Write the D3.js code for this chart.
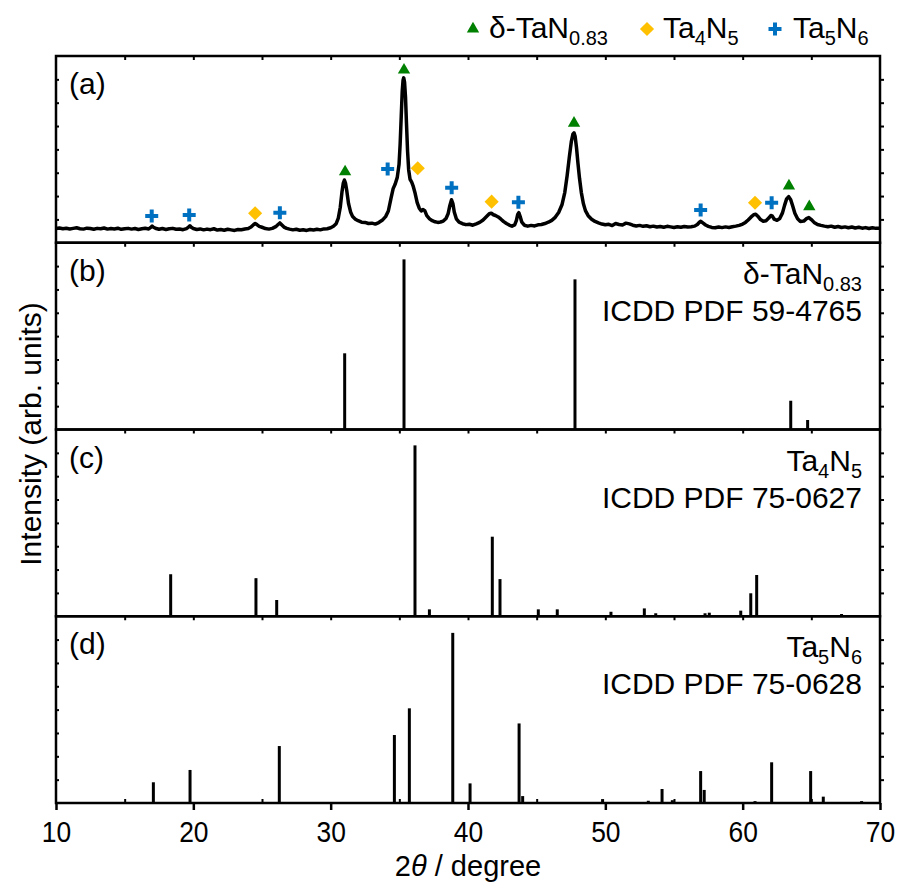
<!DOCTYPE html>
<html>
<head>
<meta charset="utf-8">
<script src="https://cdn.jsdelivr.net/npm/d3@7"></script>
<style>
  html, body { margin: 0; padding: 0; background: #fff; }
  svg { display: block; }
  text { font-family: "Liberation Sans", Arial, sans-serif; fill: #000; }
</style>
</head>
<body>
<svg id="chart" width="901" height="886"></svg>
<script>
// ---------- DATA ----------
// (a) measured XRD pattern: [2θ (degree), intensity (arb. units, 0-100 panel scale)]
const patternPoints = [[10.0,7.6],[10.25,7.9],[10.5,7.5],[10.75,7.8],[11.0,7.4],[11.25,7.7],[11.5,8.0],[11.75,7.5],[12.0,7.3],[12.25,7.8],[12.5,7.6],[12.75,7.2],[13.0,7.7],[13.25,7.5],[13.5,7.9],[13.75,7.3],[14.0,7.6],[14.25,7.4],[14.5,7.8],[14.75,7.2],[15.0,7.5],[15.25,7.7],[15.5,7.3],[15.75,7.6],[16.0,7.1],[16.25,7.5],[16.5,7.8],[16.75,7.4],
[16.9,8.2],[17.0,8.9],[17.1,8.3],[17.3,7.6],[17.5,7.2],[17.75,7.6],[18.0,7.1],[18.25,7.5],[18.5,7.7],[18.75,7.2],[19.0,7.4],[19.25,7.0],[19.5,7.6],[19.65,8.4],[19.75,9.1],[19.85,8.3],[20.0,7.6],[20.25,7.1],[20.5,7.4],[20.75,6.9],[21.0,7.3],[21.25,7.0],[21.5,7.5],[21.75,6.8],[22.0,7.1],[22.25,6.7],[22.5,7.2],[22.75,6.9],[23.0,6.6],[23.25,7.1],[23.5,7.0],[23.75,7.4],[24.0,7.6],[24.2,8.4],[24.4,9.8],[24.5,10.3],[24.65,9.6],[24.8,8.8],[25.0,8.3],[25.25,7.6],[25.5,7.3],[25.75,7.7],[26.0,8.6],[26.15,9.6],[26.3,10.6],[26.45,9.5],[26.6,8.4],[26.8,7.7],[27.0,7.3],[27.25,6.9],[27.5,7.2],[27.75,6.7],[28.0,7.0],[28.25,6.6],[28.5,7.1],[28.75,6.8],[29.0,7.2],[29.25,6.9],[29.5,7.4],[29.75,7.5],[30.0,8.0],[30.2,8.8],[30.4,10.2],[30.55,13.0],[30.7,19.0],[30.82,27.0],[30.92,32.0],[31.0,33.6],[31.08,32.0],[31.18,27.5],[31.3,21.0],[31.45,16.5],[31.6,14.0],[31.8,12.6],[32.0,11.8],[32.25,11.0],[32.5,10.9],[32.75,10.3],[33.0,10.5],[33.25,10.0],[33.5,10.8],[33.75,12.0],[34.0,14.0],[34.2,17.0],[34.4,24.0],[34.55,29.0],[34.7,31.5],[34.85,35.0],[34.98,42.0],[35.06,53.0],[35.14,68.0],[35.21,81.0],[35.27,87.0],[35.32,88.3],[35.38,86.0],[35.45,78.0],[35.52,64.0],[35.6,49.0],[35.68,39.0],[35.78,34.0],[35.9,32.5],[36.0,30.5],[36.15,26.5],[36.3,21.5],[36.45,18.5],[36.6,17.0],[36.72,17.8],[36.85,17.2],[37.0,14.5],[37.2,12.8],[37.4,11.8],[37.6,11.2],[37.8,10.9],[38.0,11.1],[38.2,11.6],[38.4,13.0],[38.55,15.5],[38.68,20.0],[38.8,23.0],[38.9,21.0],[39.0,16.5],[39.15,12.8],[39.35,11.0],[39.6,10.2],[39.85,9.7],[40.1,9.9],[40.35,9.4],[40.6,10.1],[40.85,10.9],[41.1,12.2],[41.35,14.0],[41.55,15.5],[41.7,15.8],[41.85,15.0],[42.0,14.6],[42.2,13.8],[42.4,12.6],[42.6,11.3],[42.8,10.3],[43.0,9.5],[43.2,8.9],[43.4,9.6],[43.52,11.8],[43.62,15.2],[43.7,16.1],[43.8,14.0],[43.92,11.0],[44.1,9.4],[44.35,8.9],[44.6,9.3],[44.85,9.0],[45.1,9.6],[45.35,9.8],[45.6,10.3],[45.85,11.0],[46.1,12.0],[46.35,13.6],[46.6,16.2],[46.85,20.5],[47.05,27.0],[47.22,36.0],[47.38,46.0],[47.52,54.0],[47.64,58.2],[47.72,58.9],[47.8,57.0],[47.9,51.0],[48.0,43.0],[48.12,34.5],[48.25,27.0],[48.4,21.0],[48.55,17.2],[48.75,14.5],[49.0,12.6],[49.25,11.4],[49.5,10.6],[49.75,10.0],[50.0,9.6],[50.25,9.9],[50.5,9.2],[50.75,10.3],[51.0,9.8],[51.25,9.5],[51.5,10.5],[51.75,10.1],[52.0,9.4],[52.25,9.0],[52.5,9.3],[52.75,8.8],[53.0,9.1],[53.25,8.6],[53.5,8.9],[53.75,8.4],[54.0,8.7],[54.25,8.3],[54.5,8.8],[54.75,8.5],[55.0,8.2],[55.25,8.6],[55.5,8.3],[55.75,8.7],[56.0,8.4],[56.25,8.6],[56.5,8.9],[56.7,9.8],[56.85,11.0],[56.95,11.5],[57.1,10.6],[57.3,9.5],[57.5,8.8],[57.75,8.2],[58.0,8.0],[58.25,8.4],[58.5,8.1],[58.75,8.5],[59.0,8.2],[59.25,8.6],[59.5,8.9],[59.75,9.3],[60.0,10.0],[60.2,10.9],[60.4,12.2],[60.6,13.7],[60.8,15.0],[60.95,15.3],[61.1,14.2],[61.3,12.4],[61.5,11.5],[61.7,11.8],[61.9,13.2],[62.05,14.6],[62.15,14.4],[62.3,12.6],[62.5,12.0],[62.7,13.0],[62.9,16.0],[63.05,20.0],[63.2,23.5],[63.35,24.7],[63.5,23.0],[63.65,19.5],[63.8,15.8],[64.0,12.8],[64.2,11.4],[64.45,11.6],[64.65,12.9],[64.82,13.5],[65.0,12.4],[65.2,10.9],[65.45,9.8],[65.7,9.3],[65.95,8.9],[66.2,8.6],[66.45,8.9],[66.7,8.3],[66.95,8.7],[67.2,8.2],[67.45,8.5],[67.7,8.0],[67.95,8.4],[68.2,7.9],[68.45,8.3],[68.7,7.8],[68.95,8.1],[69.2,7.6],[69.45,8.0],[69.7,7.7],[70.0,7.8]];

// (a) phase markers
const tanMarkTheta = [31.05, 35.34, 47.72, 63.37, 64.85];
const tanMarkY     = [38.0, 92.5, 64.0, 30.4, 19.3];
const ta4n5MarkTheta = [24.5, 36.34, 41.72, 60.9];
const ta4n5MarkY     = [15.8, 39.9, 22.0, 21.4];
const ta5n6MarkTheta = [16.97, 19.7, 26.3, 34.15, 38.81, 43.67, 56.94, 62.11];
const ta5n6MarkY     = [14.3, 14.9, 16.1, 39.5, 29.5, 21.7, 17.5, 21.4];

// (b) δ-TaN0.83 reference pattern
const tanStickTheta = [31.02, 35.34, 47.79, 63.5, 64.73];
const tanStickI     = [40.8, 91.1, 80.4, 15.4, 5.1];
// (c) Ta4N5 reference pattern
const ta4n5StickTheta = [18.35, 24.56, 26.07, 36.14, 37.19, 41.77, 42.33, 45.12, 46.5, 50.41, 52.84, 53.67, 57.26, 57.57, 59.86, 60.59, 61.02, 67.2];
const ta4n5StickI     = [22.5, 20.4, 8.7, 91.5, 3.7, 42.6, 19.9, 3.7, 3.7, 2.4, 4.2, 1.6, 1.6, 1.9, 3.0, 12.3, 22.1, 1.2];
// (d) Ta5N6 reference pattern
const ta5n6StickTheta = [17.09, 19.76, 26.26, 34.64, 35.73, 38.89, 40.15, 43.72, 43.98, 49.8, 53.13, 54.13, 54.88, 56.94, 57.2, 60.9, 62.11, 64.95, 65.87, 68.66];
const ta5n6StickI     = [11.1, 17.7, 30.5, 36.4, 50.7, 91.1, 10.5, 42.6, 3.7, 2.1, 1.2, 7.5, 1.5, 17.1, 7.0, 1.0, 21.8, 17.1, 3.4, 1.0];

const xTicks = [10, 20, 30, 40, 50, 60, 70];
const panelLabels = ["(a)", "(b)", "(c)", "(d)"];
const refNames = [null, ["δ-TaN", "0.83"], ["Ta", "4", "N", "5"], ["Ta", "5", "N", "6"]];
const refCards = [null, "ICDD PDF 59-4765", "ICDD PDF 75-0627", "ICDD PDF 75-0628"];
const xTitle = ["2", "θ", " / degree"];
const yTitle = "Intensity (arb. units)";

// ---------- LAYOUT ----------
const svg = d3.select("#chart");
const left = 56, right = 880, top0 = 56, bottom = 803;
const panelH = (bottom - top0) / 4;
const GREEN = "#008000", GOLD = "#ffc000", BLUE = "#0070c0";

const x = d3.scaleLinear().domain([10, 70]).range([left, right]);
const yScales = d3.range(4).map(i =>
  d3.scaleLinear().domain([0, 100]).range([top0 + (i + 1) * panelH, top0 + i * panelH]));

const triPath = d3.symbol().type(d3.symbolTriangle).size(66)();
const diaPath = d3.symbol().type(d3.symbolSquare).size(100)();
function plusPath(s, w) {
  return `M${-w},${-s}H${w}V${-w}H${s}V${w}H${w}V${s}H${-w}V${w}H${-s}V${-w}H${-w}Z`;
}
const crossPath = plusPath(6.5, 2);

// ---------- PANELS ----------
for (let i = 0; i < 4; i++) {
  const y = yScales[i];
  const g = svg.append("g");
  const pt = top0 + i * panelH;

  g.append("g").attr("transform", `translate(0,${pt})`)
    .call(d3.axisTop(x).tickValues(d3.range(15, 70, 5)).tickSize(-4).tickFormat(""))
    .call(a => a.select(".domain").remove())
    .selectAll("line").attr("stroke-width", 2);
  g.append("g").attr("transform", `translate(${left},0)`)
    .call(d3.axisLeft(y).tickValues(d3.range(12.5, 100, 12.5)).tickSize(-3).tickFormat(""))
    .call(a => a.select(".domain").remove())
    .selectAll("line").attr("stroke-width", 2);
  g.append("g").attr("transform", `translate(${right},0)`)
    .call(d3.axisRight(y).tickValues(d3.range(12.5, 100, 12.5)).tickSize(4).tickFormat(""))
    .call(a => a.select(".domain").remove())
    .selectAll("line").attr("stroke-width", 2);

  g.append("text").attr("x", 69).attr("y", pt + 38)
    .attr("font-size", 30).text(panelLabels[i]);

  if (i > 0) {
    const nm = refNames[i];
    const t = g.append("text").attr("x", 862).attr("y", pt + 41)
      .attr("text-anchor", "end").attr("font-size", 30);
    t.append("tspan").text(nm[0]);
    t.append("tspan").attr("font-size", 20).attr("dy", 7).text(nm[1]);
    if (nm.length > 2) {
      t.append("tspan").attr("dy", -7).text(nm[2]);
      t.append("tspan").attr("font-size", 20).attr("dy", 7).text(nm[3]);
    }
    g.append("text").attr("x", 862).attr("y", pt + 78)
      .attr("text-anchor", "end").attr("font-size", 30).text(refCards[i]);
  }
}

// ---------- (a) pattern ----------
svg.append("path").datum(patternPoints)
  .attr("fill", "none").attr("stroke", "#000").attr("stroke-width", 3.5)
  .attr("stroke-linejoin", "round")
  .attr("d", d3.line().x(d => x(d[0])).y(d => yScales[0](d[1])));

function drawMarkers(thetas, ys, path, color, rot) {
  svg.append("g").selectAll("path").data(thetas.map((t, k) => [t, ys[k]])).join("path")
    .attr("d", path).attr("fill", color)
    .attr("transform", d => `translate(${x(d[0])},${yScales[0](d[1])}) rotate(${rot})`);
}
drawMarkers(tanMarkTheta, tanMarkY, triPath, GREEN, 0);
drawMarkers(ta4n5MarkTheta, ta4n5MarkY, diaPath, GOLD, 45);
drawMarkers(ta5n6MarkTheta, ta5n6MarkY, crossPath, BLUE, 0);

// ---------- sticks ----------
function drawSticks(thetas, vals, y) {
  svg.append("g").selectAll("line").data(thetas.map((t, k) => [t, vals[k]])).join("line")
    .attr("x1", d => x(d[0])).attr("x2", d => x(d[0]))
    .attr("y1", y(0)).attr("y2", d => y(d[1]))
    .attr("stroke", "#000").attr("stroke-width", 3);
}
drawSticks(tanStickTheta, tanStickI, yScales[1]);
drawSticks(ta4n5StickTheta, ta4n5StickI, yScales[2]);
drawSticks(ta5n6StickTheta, ta5n6StickI, yScales[3]);

// ---------- frames ----------
for (let i = 0; i < 4; i++) {
  svg.append("rect").attr("x", left).attr("y", top0 + i * panelH)
    .attr("width", right - left).attr("height", panelH)
    .attr("fill", "none").attr("stroke", "#000").attr("stroke-width", 2.5);
}

// ---------- bottom axis ----------
const xAxisG = svg.append("g").attr("transform", `translate(0,${bottom})`)
  .call(d3.axisBottom(x).tickValues(xTicks).tickSize(7).tickPadding(6).tickFormat(d3.format("d")));
xAxisG.select(".domain").remove();
xAxisG.selectAll("line").attr("stroke-width", 2.5);
xAxisG.selectAll("text").attr("font-size", 30).attr("dy", null).attr("y", 39)
  .attr("transform", "scale(0.88,1)")
  .attr("font-family", '"Liberation Sans", Arial, sans-serif').attr("fill", "#000");
svg.append("g").attr("transform", `translate(0,${bottom})`)
  .call(d3.axisBottom(x).tickValues(d3.range(15, 70, 10)).tickSize(-4).tickFormat(""))
  .call(a => a.select(".domain").remove())
  .selectAll("line").attr("stroke-width", 2);

// axis titles
const xt = svg.append("text")
  .attr("transform", `translate(${(left + right) / 2},876)`)
  .attr("text-anchor", "middle").attr("font-size", 29);
xt.append("tspan").text(xTitle[0]);
xt.append("tspan").attr("font-style", "italic").text(xTitle[1]);
xt.append("tspan").text(xTitle[2]);

svg.append("text").attr("transform", `translate(41,434) rotate(-90)`)
  .attr("text-anchor", "middle").attr("font-size", 30).text(yTitle);

// ---------- legend ----------
const lg = svg.append("g");
lg.append("path").attr("d", triPath).attr("fill", GREEN).attr("transform", "translate(473,29)");
const l1 = lg.append("text").attr("x", 489).attr("y", 38).attr("font-size", 30);
l1.append("tspan").text("δ-TaN");
l1.append("tspan").attr("font-size", 20).attr("dy", 7).text("0.83");
lg.append("path").attr("d", diaPath).attr("fill", GOLD).attr("transform", "translate(647,29) rotate(45)");
const l2 = lg.append("text").attr("x", 663).attr("y", 38).attr("font-size", 30);
l2.append("tspan").text("Ta");
l2.append("tspan").attr("font-size", 20).attr("dy", 7).text("4");
l2.append("tspan").attr("dy", -7).text("N");
l2.append("tspan").attr("font-size", 20).attr("dy", 7).text("5");
lg.append("path").attr("d", crossPath).attr("fill", BLUE).attr("transform", "translate(775,29)");
const l3 = lg.append("text").attr("x", 793).attr("y", 38).attr("font-size", 30);
l3.append("tspan").text("Ta");
l3.append("tspan").attr("font-size", 20).attr("dy", 7).text("5");
l3.append("tspan").attr("dy", -7).text("N");
l3.append("tspan").attr("font-size", 20).attr("dy", 7).text("6");
</script>
</body>
</html>
